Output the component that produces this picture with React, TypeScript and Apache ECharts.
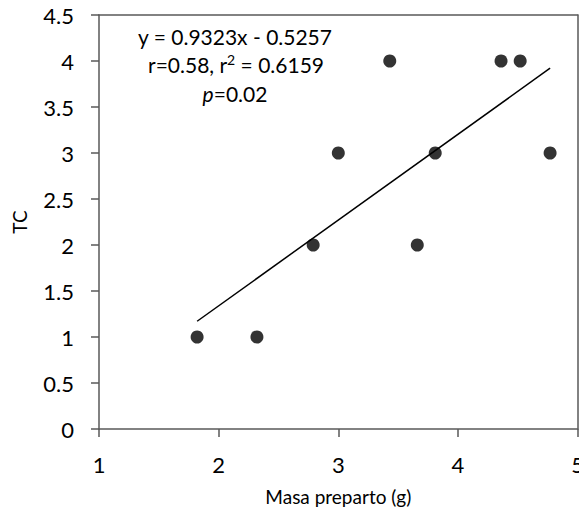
import React, { useEffect, useRef } from "react";
import * as echarts from "echarts";

const masa = [1.82, 2.32, 2.79, 3.0, 3.43, 3.66, 3.81, 4.36, 4.52, 4.77];
const tc = [1, 1, 2, 3, 4, 2, 3, 4, 4, 3];
const slope = 0.9323;
const intercept = -0.5257;
const eqLine1 = "y = 0.9323x - 0.5257";
const eqR = "0.58";
const eqR2 = "0.6159";
const eqP = "0.02";

const FONT = "Lato, 'Noto Sans', sans-serif";
const AXIS_COLOR = "#595959";

export default function App() {
  const ref = useRef<HTMLDivElement>(null);
  useEffect(() => {
    if (!ref.current) return;
    const chart = echarts.init(ref.current, undefined, { renderer: "svg" });
    const xMin = Math.min(...masa);
    const xMax = Math.max(...masa);
    const trend = [
      [xMin, slope * xMin + intercept],
      [xMax, slope * xMax + intercept],
    ];
    const axisCommon = {
      axisLine: { show: true, lineStyle: { color: AXIS_COLOR, width: 1.5 } },
      axisTick: { show: true, length: 8, lineStyle: { color: AXIS_COLOR, width: 1.5 } },
      splitLine: { show: false },
    };
    const rich = {
      n: { fontSize: 21, fontFamily: FONT, fill: "#000", lineHeight: 24, verticalAlign: "bottom" },
      i: { fontSize: 21, fontFamily: FONT, fill: "#000", fontStyle: "italic", lineHeight: 24, verticalAlign: "bottom" },
      s: { fontSize: 14, fontFamily: FONT, fill: "#000", lineHeight: 24, verticalAlign: "top", padding: [1, 0, 0, 0] },
    };
    const txt = (text: string, x: number, y: number) => ({
      type: "text",
      x,
      y,
      style: {
        text,
        rich,
        fontSize: 21,
        fontFamily: FONT,
        fill: "#000",
        align: "center",
        verticalAlign: "middle",
      },
    });
    chart.setOption({
      animation: false,
      backgroundColor: "#fff",
      textStyle: { fontFamily: FONT },
      grid: { left: 99, top: 15, right: 9, bottom: 90 },
      xAxis: [
        {
          type: "value",
          min: 1,
          max: 5,
          interval: 1,
          ...axisCommon,
          axisLabel: { color: "#000", fontSize: 22, margin: 24, fontFamily: FONT },
          name: "Masa preparto (g)",
          nameLocation: "middle",
          nameGap: 58,
          nameTextStyle: { color: "#000", fontSize: 19, fontFamily: FONT },
        },
        {
          type: "value",
          position: "top",
          min: 1,
          max: 5,
          axisLine: { show: true, onZero: false, lineStyle: { color: AXIS_COLOR, width: 1.5 } },
          axisTick: { show: false },
          axisLabel: { show: false },
          splitLine: { show: false },
        },
      ],
      yAxis: [
        {
          type: "value",
          min: 0,
          max: 4.5,
          interval: 0.5,
          ...axisCommon,
          axisLabel: { color: "#000", fontSize: 22, margin: 25, fontFamily: FONT },
          name: "TC",
          nameLocation: "middle",
          nameGap: 70,
          nameTextStyle: { color: "#000", fontSize: 19, fontFamily: FONT },
        },
        {
          type: "value",
          position: "right",
          min: 0,
          max: 4.5,
          axisLine: { show: true, onZero: false, lineStyle: { color: AXIS_COLOR, width: 1.5 } },
          axisTick: { show: false },
          axisLabel: { show: false },
          splitLine: { show: false },
        },
      ],
      series: [
        {
          type: "line",
          data: trend,
          symbol: "none",
          lineStyle: { color: "#000", width: 1.5 },
          z: 2,
        },
        {
          type: "scatter",
          data: masa.map((x, i) => [x, tc[i]]),
          symbol: "circle",
          symbolSize: 13,
          itemStyle: { color: "#000" },
          z: 3,
        },
      ],
      graphic: [
        txt("{n|" + eqLine1 + "}", 235, 35),
        txt("{n|r=" + eqR + ", r}{s|2}{n| = " + eqR2 + "}", 236, 63),
        txt("{i|p}{n|=" + eqP + "}", 235, 92),
      ],
    });
    return () => chart.dispose();
  }, []);
  return <div ref={ref} style={{ width: 587, height: 519, margin: -8 }} />;
}
